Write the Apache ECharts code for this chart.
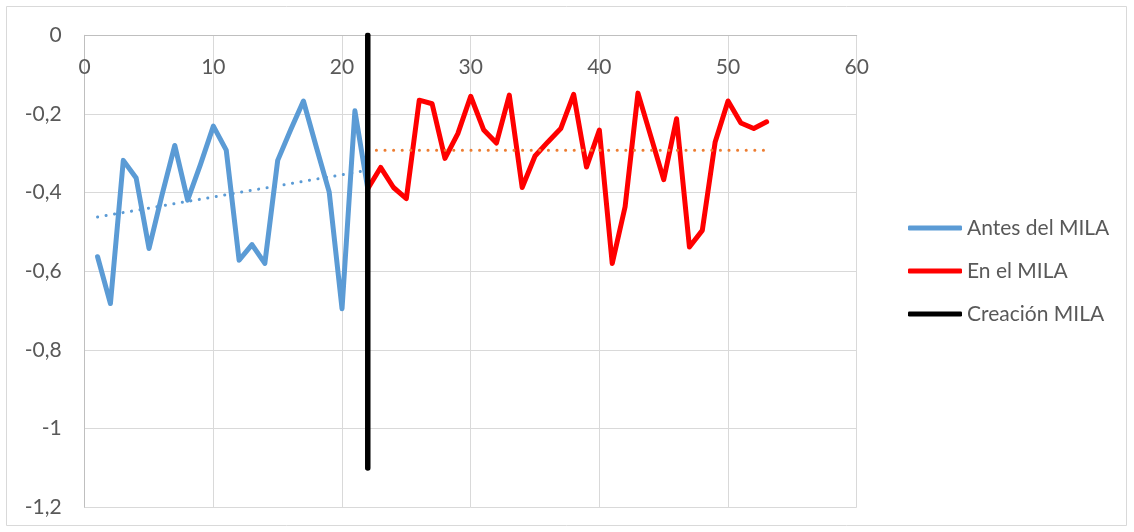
<!DOCTYPE html>
<html>
<head>
<meta charset="utf-8">
<script src="https://cdn.jsdelivr.net/npm/echarts@6/dist/echarts.min.js"></script>
<style>
html,body{margin:0;padding:0;background:#fff;}
#chart{width:1134px;height:532px;}
</style>
</head>
<body>
<div id="chart"></div>
<script>
// Data
var antesX = [1,2,3,4,5,6,7,8,9,10,11,12,13,14,15,16,17,18,19,20,21,22];
var antesY = [-0.563,-0.682,-0.318,-0.363,-0.542,-0.407,-0.280,-0.419,-0.328,-0.231,-0.292,-0.572,-0.532,-0.580,-0.318,-0.241,-0.167,-0.284,-0.398,-0.695,-0.192,-0.390];
var enX = [22,23,24,25,26,27,28,29,30,31,32,33,34,35,36,37,38,39,40,41,42,43,44,45,46,47,48,49,50,51,52,53];
var enY = [-0.390,-0.336,-0.387,-0.415,-0.165,-0.174,-0.313,-0.250,-0.155,-0.240,-0.274,-0.152,-0.387,-0.307,-0.271,-0.237,-0.150,-0.335,-0.241,-0.580,-0.436,-0.147,-0.257,-0.367,-0.212,-0.538,-0.496,-0.271,-0.167,-0.223,-0.237,-0.220];
var creacionX = [22,22];
var creacionY = [0,-1.1];
var trendAntesX = [1,22];
var trendAntesY = [-0.462,-0.343];
var trendEnX = [22,53];
var trendEnY = [-0.292,-0.292];
var seriesNames = ['Antes del MILA','En el MILA','Creación MILA'];

function pairs(xs, ys){ return xs.map(function(x,i){return [x, ys[i]];}); }

var FONT = 'Lato';
var TXT = '#595959';
var chart = echarts.init(document.getElementById('chart'), null, {renderer:'canvas'});
chart.setOption({
  animation:false,
  backgroundColor:'#fff',
  graphic:[{type:'rect', shape:{x:6.5,y:6.5,width:1120,height:519}, style:{fill:'none',stroke:'#D9D9D9',lineWidth:1}, z:-10}],
  grid:{left:84.7, right:277.3, top:35.3, bottom:24.7, containLabel:false},
  xAxis:{
    type:'value', min:0, max:60, interval:10, position:'top',
    axisLine:{show:true, onZero:false, lineStyle:{color:'#BFBFBF', width:1}},
    axisTick:{show:false},
    axisLabel:{inside:true, color:TXT, fontFamily:FONT, fontSize:21, margin:21},
    splitLine:{show:true, lineStyle:{color:'#D9D9D9', width:1}}
  },
  yAxis:{
    type:'value', min:-1.2, max:0, interval:0.2,
    axisLine:{show:true, onZero:false, lineStyle:{color:'#BFBFBF', width:1}},
    axisTick:{show:false},
    axisLabel:{color:TXT, fontFamily:FONT, fontSize:21, margin:23,
      formatter:function(v){ var s = (Math.round(v*10)/10).toString(); return s.replace('.',','); }},
    splitLine:{show:true, lineStyle:{color:'#D9D9D9', width:1}}
  },
  legend:{
    orient:'vertical', left:903, top:212, itemWidth:54, itemHeight:5, itemGap:21,
    icon:'roundRect',
    data:seriesNames,
    textStyle:{color:TXT, fontFamily:FONT, fontSize:21, lineHeight:22}
  },
  series:[
    {name:seriesNames[0], type:'line', data:pairs(antesX, antesY), symbol:'none', color:'#5B9BD5',
      lineStyle:{color:'#5B9BD5', width:5, join:'round', cap:'round'}, z:2},
    {name:seriesNames[1], type:'line', data:pairs(enX, enY), symbol:'none', color:'#FF0000',
      lineStyle:{color:'#FF0000', width:5, join:'round', cap:'round'}, z:2},
    {name:'trendAntes', type:'line', data:pairs(trendAntesX, trendAntesY), symbol:'none',
      lineStyle:{color:'#5B9BD5', width:3, type:[0.1,8.5], cap:'round'}, z:3, silent:true},
    {name:'trendEn', type:'line', data:pairs(trendEnX, trendEnY), symbol:'none',
      lineStyle:{color:'#ED7D31', width:3, type:[0.1,8.5], cap:'round'}, z:3, silent:true},
    {name:seriesNames[2], type:'line', data:pairs(creacionX, creacionY), symbol:'none', color:'#000000',
      lineStyle:{color:'#000000', width:5.5, cap:'round'}, z:4}
  ]
});
</script>
</body>
</html>
